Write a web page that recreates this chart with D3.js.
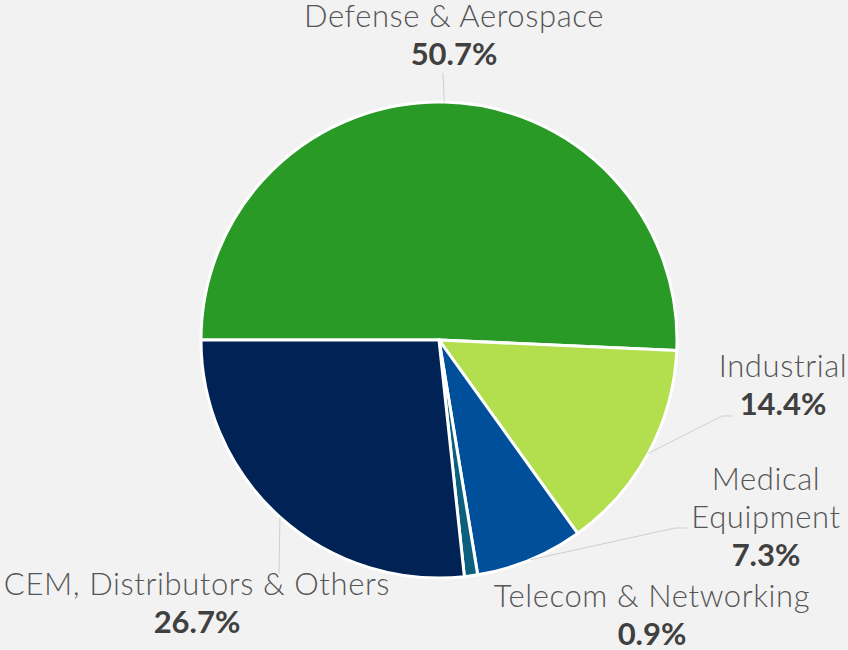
<!DOCTYPE html>
<html>
<head>
<meta charset="utf-8">
<script src="https://cdn.jsdelivr.net/npm/d3@7"></script>
<style>
  html, body { margin: 0; padding: 0; background: #f2f2f2; }
  svg { display: block; }
  .name { font-family: Lato, sans-serif; font-weight: 300; fill: #555555; letter-spacing: 0.6px; }
  .pct { font-family: Lato, sans-serif; font-weight: 700; fill: #404040; }
</style>
</head>
<body>
<svg id="chart" width="848" height="650"></svg>
<script>
// ---- data ----
const categories = ["Defense & Aerospace", "Industrial", "Medical Equipment", "Telecom & Networking", "CEM, Distributors & Others"];
const values = [50.7, 14.4, 7.3, 0.9, 26.7];
const colors = ["#2a9a26", "#b3df4f", "#004f9b", "#0d5f7e", "#002255"];

// ---- layout (label anchors, line breaks, leader elbows) ----
const labelLayout = [
  { lines: ["Defense & Aerospace"], x: 454, y: 27, elbow: null, end: [443, 73] },
  { lines: ["Industrial"], x: 783, y: 377, elbow: [722, 416], end: [733, 416] },
  { lines: ["Medical", "Equipment"], x: 766, y: 490, elbow: [675, 528], end: [687, 528] },
  { lines: ["Telecom & Networking"], x: 652, y: 607, elbow: null, end: null },
  { lines: ["CEM, Distributors & Others"], x: 197, y: 595, elbow: null, end: [279, 574] }
];

const W = 848, H = 650;
const cx = 439, cy = 340, R = 238;
const nameSize = 31, pctSize = 31, lineH = 38;

const svg = d3.select("#chart");
svg.append("rect").attr("width", W).attr("height", H).attr("fill", "#f2f2f2");

const data = categories.map((c, i) => ({ name: c, value: values[i], color: colors[i], layout: labelLayout[i] }));

const pie = d3.pie().value(d => d.value).sort(null)
  .startAngle(-Math.PI / 2).endAngle(-Math.PI / 2 + 2 * Math.PI);
const arcs = pie(data);
const arc = d3.arc().innerRadius(0).outerRadius(R);

const g = svg.append("g").attr("transform", `translate(${cx},${cy})`);

g.selectAll("path.slice").data(arcs).join("path")
  .attr("class", "slice")
  .attr("d", arc)
  .attr("fill", d => d.data.color)
  .attr("stroke", "#ffffff")
  .attr("stroke-width", 3)
  .attr("stroke-linejoin", "round");

// leader lines
const edgeArc = d3.arc().innerRadius(R).outerRadius(R);
arcs.forEach(a => {
  const L = a.data.layout;
  if (!L.end) return;
  const p0 = edgeArc.centroid(a);
  const pts = [[p0[0] + cx, p0[1] + cy]];
  if (L.elbow) pts.push(L.elbow);
  pts.push(L.end);
  svg.append("path")
    .attr("d", d3.line()(pts))
    .attr("fill", "none")
    .attr("stroke", "#cfcfcf")
    .attr("stroke-width", 1);
});

// labels
arcs.forEach(a => {
  const L = a.data.layout;
  const t = svg.append("g");
  L.lines.forEach((ln, i) => {
    t.append("text").attr("class", "name")
      .attr("x", L.x).attr("y", L.y + i * lineH)
      .attr("text-anchor", "middle")
      .attr("font-size", nameSize)
      .text(ln);
  });
  t.append("text").attr("class", "pct")
    .attr("x", L.x).attr("y", L.y + L.lines.length * lineH)
    .attr("text-anchor", "middle")
    .attr("font-size", pctSize)
    .text(d3.format(".1f")(a.data.value) + "%");
});
</script>
</body>
</html>
